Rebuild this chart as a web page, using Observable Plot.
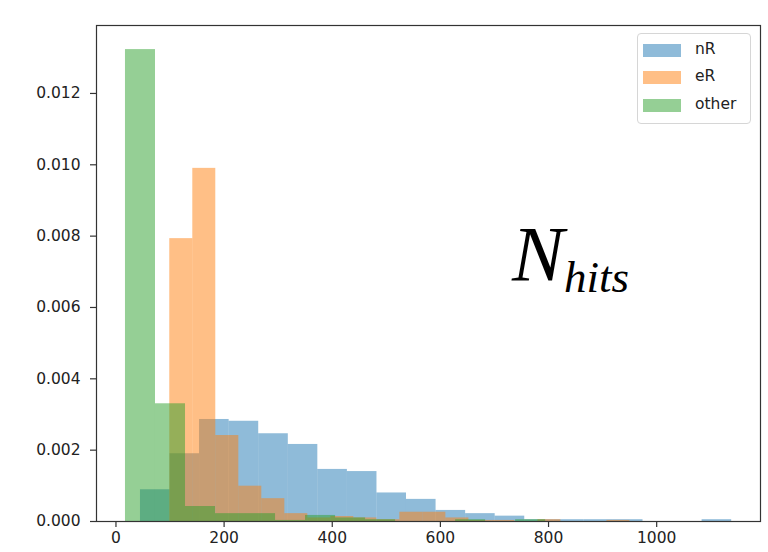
<!DOCTYPE html>
<html>
<head>
<meta charset="utf-8">
<script src="https://cdn.jsdelivr.net/npm/d3@7"></script>
<script src="https://cdn.jsdelivr.net/npm/@observablehq/plot@0.6"></script>
<style>
  html, body { margin: 0; padding: 0; background: #fff; }
  #wrap { position: relative; width: 768px; height: 552px; }
  .legend { position: absolute; left: 637px; top: 33px; width: 114px; height: 91px;
    box-sizing: border-box; border: 1px solid #d6d6d6; border-radius: 4px; background: rgba(255,255,255,0.8);
    font-family: "DejaVu Sans", sans-serif; font-size: 15.5px; color: #222; }
  .legend .row { position: absolute; left: 5px; height: 14px; }
  .legend .sw { position: absolute; left: 0; top: 0; width: 38px; height: 13px; }
  .legend .lb { position: absolute; left: 52px; top: -4px; white-space: nowrap; }
</style>
</head>
<body>
<div id="wrap"></div>
<script>
// Histogram bin edges (data units) and densities
const seriesNames = ["nR", "eR", "other"];
const seriesColors = ["#1f77b4", "#ff7f0e", "#2ca02c"];

const nREdges = [45.3, 100.0, 154.6, 209.3, 264.0, 318.7, 373.3, 428.0, 482.7, 537.3, 592.0,
  646.7, 701.3, 756.0, 810.7, 865.4, 920.0, 974.7, 1029.4, 1084.0, 1138.7];
const nRDensity = [0.00089, 0.0019, 0.00286, 0.00281, 0.00246, 0.00216, 0.00146, 0.0014, 0.0008, 0.00062,
  0.00031, 0.00022, 0.00015, 0.00005, 0.00005, 0.00005, 0.00005, 0, 0, 0.00005];

const eREdges = [99.5, 142.1, 184.6, 227.2, 269.7, 312.3, 354.8, 397.4, 439.9, 482.5, 525.0,
  567.6, 610.1, 652.7, 695.2, 737.8, 780.3, 822.9, 865.4, 908.0, 950.5];
const eRDensity = [0.00793, 0.0099, 0.00241, 0.00099, 0.00064, 0.00022, 0.0001, 0.00014, 0.0001, 0.00005,
  0.00026, 0.00026, 0.0001, 0.00003, 0.00003, 0, 0.00005, 0, 0, 0.00003];

const otherEdges = [17.6, 73.1, 128.6, 184.1, 239.6, 295.1, 350.6, 406.1, 461.6, 517.1, 572.6,
  628.1, 683.6, 739.1, 794.6, 850.1, 905.6, 961.1, 1016.6, 1072.1, 1127.6];
const otherDensity = [0.01323, 0.0033, 0.00042, 0.00022, 0.00022, 0.00003, 0.00017, 0.0001, 0.00005, 0,
  0, 0.00005, 0, 0.00005, 0, 0, 0, 0, 0, 0];

const xTicks = [0, 200, 400, 600, 800, 1000];
const yTicks = [0, 0.002, 0.004, 0.006, 0.008, 0.010, 0.012];

function bins(edges, dens, name) {
  return dens.map((d, i) => ({ x1: edges[i], x2: edges[i + 1], y: d, series: name }));
}
const nRBins = bins(nREdges, nRDensity, "nR");
const eRBins = bins(eREdges, eRDensity, "eR");
const otherBins = bins(otherEdges, otherDensity, "other");

const font = "DejaVu Sans, sans-serif";
const chart = Plot.plot({
  width: 768,
  height: 552,
  marginLeft: 96,
  marginRight: 8,
  marginTop: 25,
  marginBottom: 31,
  style: { fontFamily: font, fontSize: "15.5px", color: "#222", background: "#fff" },
  x: { domain: [-36, 1192] },
  y: { domain: [0, 0.013905] },
  marks: [
    Plot.rectY(nRBins, { x1: "x1", x2: "x2", y: "y", fill: seriesColors[0], fillOpacity: 0.5 }),
    Plot.rectY(eRBins, { x1: "x1", x2: "x2", y: "y", fill: seriesColors[1], fillOpacity: 0.5 }),
    Plot.rectY(otherBins, { x1: "x1", x2: "x2", y: "y", fill: seriesColors[2], fillOpacity: 0.5 }),
    Plot.frame({ stroke: "#333", strokeWidth: 1.2 }),
    Plot.axisX({ ticks: xTicks, tickSize: 6, tickPadding: 4, tickFormat: d3.format("d"), label: null, stroke: "#333", strokeWidth: 1.2, fill: "#222" }),
    Plot.axisY({ ticks: yTicks, tickSize: 6, tickPadding: 10, tickFormat: d3.format(".3f"), label: null, stroke: "#333", strokeWidth: 1.2, fill: "#222" })
  ]
});

const wrap = document.getElementById("wrap");
wrap.appendChild(chart);

// annotation N_hits
const svg = d3.select(chart);
const t = svg.append("text")
  .attr("x", 512).attr("y", 280)
  .attr("text-anchor", "start")
  .attr("font-family", "Liberation Serif, Times New Roman, serif")
  .attr("font-style", "italic")
  .attr("fill", "#000");
t.append("tspan").attr("font-size", 78).text("N");
t.append("tspan").attr("font-size", 45).attr("dy", 12).text("hits");

// legend
const legend = document.createElement("div");
legend.className = "legend";
const rowTops = [10, 37, 65];
seriesNames.forEach((name, i) => {
  const row = document.createElement("div");
  row.className = "row";
  row.style.top = rowTops[i] + "px";
  const sw = document.createElement("div");
  sw.className = "sw";
  sw.style.background = seriesColors[i];
  sw.style.opacity = 0.5;
  const lb = document.createElement("span");
  lb.className = "lb";
  lb.textContent = name;
  row.appendChild(sw);
  row.appendChild(lb);
  legend.appendChild(row);
});
wrap.appendChild(legend);
</script>
</body>
</html>
